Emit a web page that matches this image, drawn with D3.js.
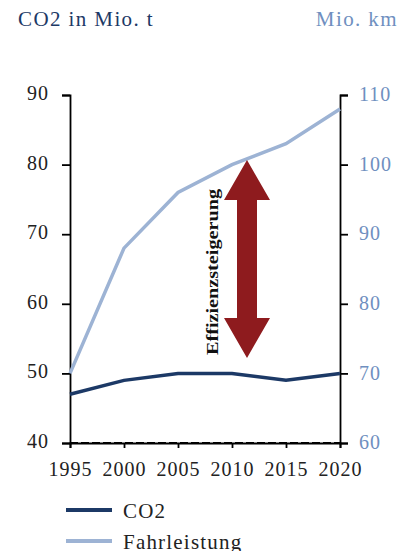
<!DOCTYPE html>
<html>
<head>
<meta charset="utf-8">
<script src="https://cdn.jsdelivr.net/npm/d3@7"></script>
<style>
  body { margin: 0; background: #fff; }
  text { font-family: "Liberation Serif", "DejaVu Serif", serif; }
</style>
</head>
<body>
<svg id="chart" width="414" height="551"></svg>
<script>
const years = [1995, 2000, 2005, 2010, 2015, 2020];
const co2 = [47, 49, 50, 50, 49, 50];
const fahrleistung = [70, 88, 96, 100, 103, 108];
const leftTicks = [40, 50, 60, 70, 80, 90];
const rightTicks = [60, 70, 80, 90, 100, 110];

const navy = "#1c3966";
const lightBlue = "#9db3d4";
const rightLabel = "#6f8fc0";
const arrowRed = "#8e1b1e";

const svg = d3.select("#chart");

const x = d3.scaleLinear().domain([1995, 2020]).range([70, 340]);
const yL = d3.scaleLinear().domain([40, 90]).range([443, 95]);
const yR = d3.scaleLinear().domain([60, 110]).range([443, 95]);

// titles
svg.append("text").attr("x", 18).attr("y", 26)
   .attr("font-size", 21).attr("letter-spacing", 1.4).attr("fill", navy).text("CO2 in Mio. t");
svg.append("text").attr("x", 398).attr("y", 26).attr("text-anchor", "end")
   .attr("font-size", 21).attr("letter-spacing", 1.4).attr("fill", rightLabel).text("Mio. km");

// left axis
const left = svg.append("g").attr("transform", "translate(70,0)")
   .call(d3.axisLeft(yL).tickValues(leftTicks).tickSize(8).tickPadding(13));
left.selectAll("text").attr("font-size", 20).attr("letter-spacing", 1).attr("fill", "#222")
   .attr("dy", "0.22em").style("font-family", "Liberation Serif");

// right axis
const right = svg.append("g").attr("transform", "translate(340,0)")
   .call(d3.axisRight(yR).tickValues(rightTicks).tickSize(8).tickPadding(11));
right.selectAll("text").attr("font-size", 20).attr("letter-spacing", 1).attr("fill", rightLabel)
   .attr("dy", "0.28em").style("font-family", "Liberation Serif");

// bottom axis
const bottom = svg.append("g").attr("transform", "translate(0,443)")
   .call(d3.axisBottom(x).tickValues(years).tickFormat(d3.format("d")).tickSize(5).tickPadding(14));
bottom.selectAll("text").attr("font-size", 20).attr("letter-spacing", 1).attr("fill", "#222")
   .style("font-family", "Liberation Serif");
bottom.append("line").attr("x1", 70).attr("x2", 340)
   .attr("stroke", "#000").attr("stroke-width", 2).attr("stroke-dasharray", "8,3");

svg.selectAll(".domain").attr("stroke", "#000").attr("stroke-width", 1.8);
svg.selectAll(".tick line").attr("stroke", "#000").attr("stroke-width", 1.8);

// lines
const lineL = d3.line().x((d, i) => x(years[i])).y(d => yL(d));
const lineR = d3.line().x((d, i) => x(years[i])).y(d => yR(d));

svg.append("path").datum(fahrleistung).attr("d", lineR)
   .attr("fill", "none").attr("stroke", lightBlue).attr("stroke-width", 3.5);
svg.append("path").datum(co2).attr("d", lineL)
   .attr("fill", "none").attr("stroke", navy).attr("stroke-width", 3.5);

// double arrow
const ax = 247, arrTop = 160, arrBot = 358, hw = 23, hl = 40, sw = 10;
const arrow = [
  [ax, arrTop], [ax + hw, arrTop + hl], [ax + sw, arrTop + hl], [ax + sw, arrBot - hl],
  [ax + hw, arrBot - hl], [ax, arrBot], [ax - hw, arrBot - hl], [ax - sw, arrBot - hl],
  [ax - sw, arrTop + hl], [ax - hw, arrTop + hl]
];
svg.append("path").attr("d", d3.line()(arrow) + "Z").attr("fill", arrowRed);

svg.append("text")
   .attr("transform", "translate(218,355) rotate(-90)")
   .attr("font-size", 16).attr("font-weight", "bold").attr("fill", "#111")
   .attr("textLength", 166).attr("lengthAdjust", "spacingAndGlyphs")
   .text("Effizienzsteigerung");

// legend
const legend = [["CO2", navy], ["Fahrleistung", lightBlue]];
legend.forEach(([name, col], i) => {
  const ly = 510 + i * 31;
  svg.append("line").attr("x1", 66).attr("x2", 112).attr("y1", ly).attr("y2", ly)
     .attr("stroke", col).attr("stroke-width", 4);
  svg.append("text").attr("x", 123).attr("y", ly + 8)
     .attr("font-size", 21).attr("letter-spacing", 1.2).attr("fill", "#222").text(name);
});
</script>
</body>
</html>
